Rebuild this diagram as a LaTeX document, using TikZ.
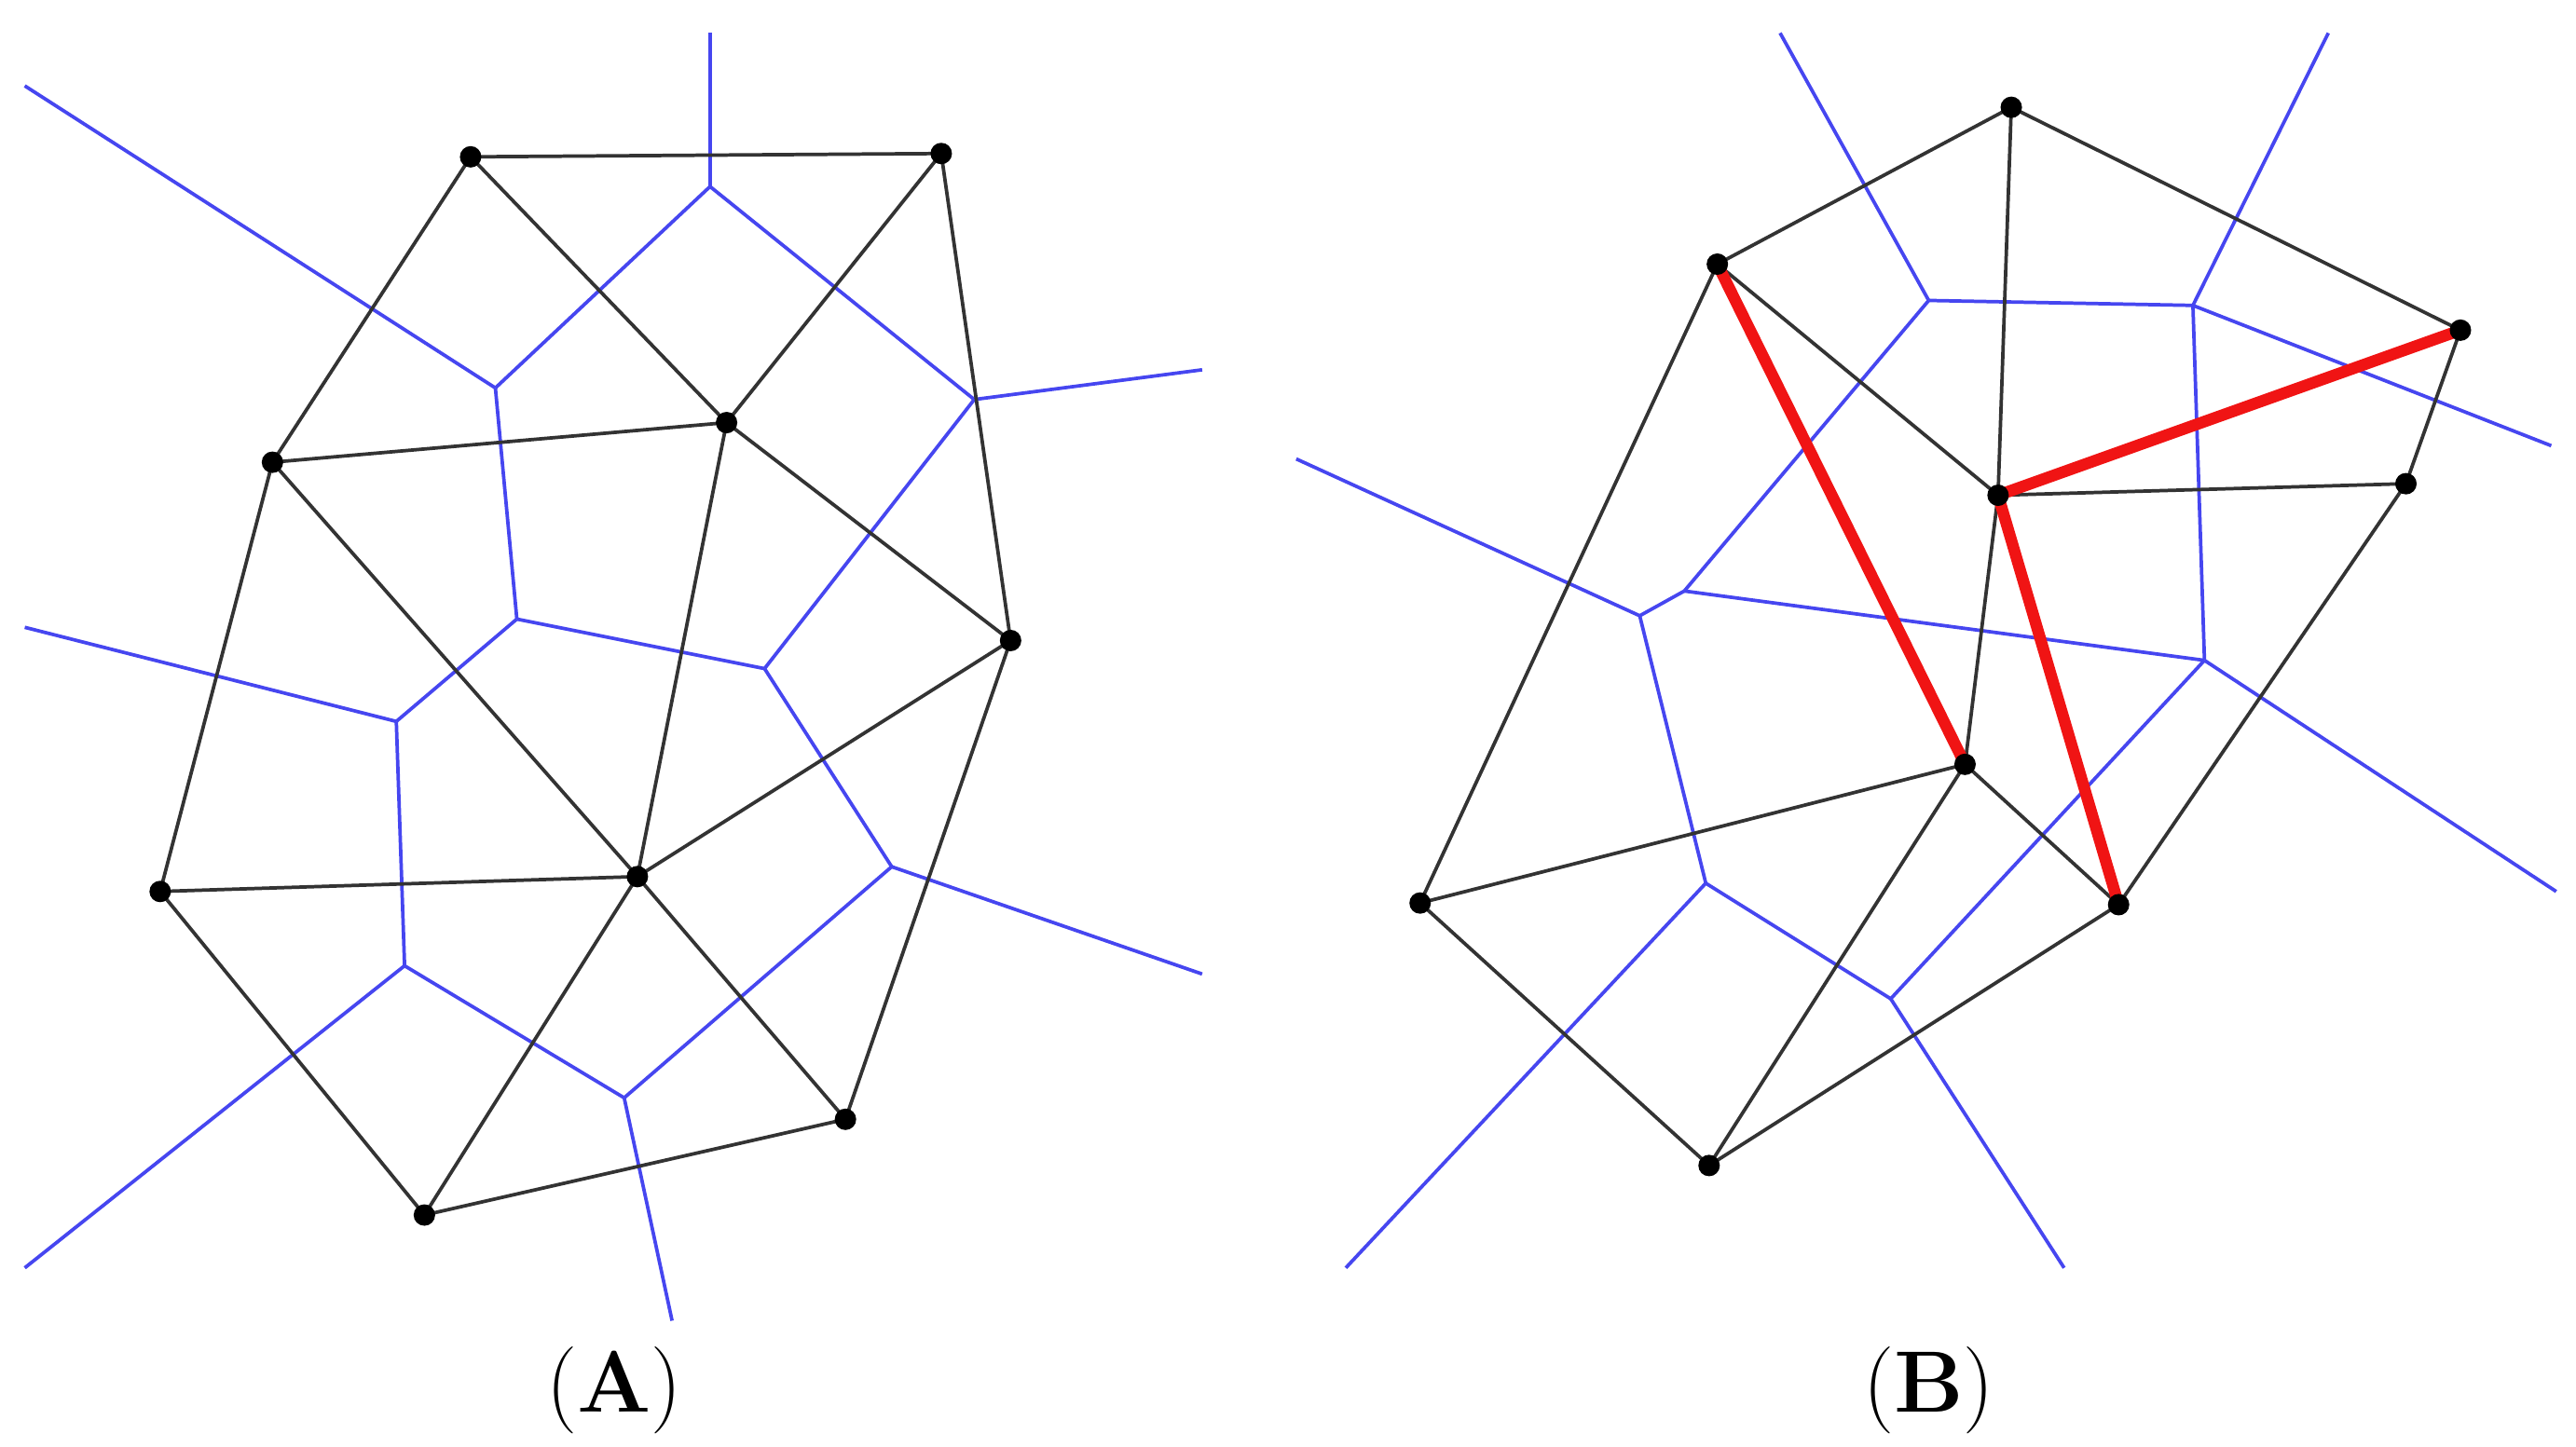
\documentclass[tikz,border=0pt]{standalone}
\begin{document}
\begin{tikzpicture}[x=0.01cm,y=-0.01cm,
  blk/.style={draw=black!80,line width=0.6pt},
  vor/.style={draw={rgb,255:red,70;green,70;blue,240},line width=0.6pt},
  red/.style={draw={rgb,255:red,240;green,20;blue,20},line width=2pt},
  lbl/.style={font=\fontsize{15}{17}\selectfont}]
\useasboundingbox (0,0) rectangle (1560,876);
% Panel A points
\foreach \n/\x/\y in {a1/285/95,a2/570/93,a3/165/280,a4/440/256,a5/612/388,a6/97/540,a7/386/531,a8/512/678,a9/257/736,
 v1/430/113,v2/300/235,v3/590/242,v4/313/375,v5/463/405,v6/240/437,v7/540/525,v8/245/585,v9/378/665,
 e1/430/20,e2/15/52,e3/728/224,e4/15/380,e5/728/590,e6/15/768,e7/407/800,
 b1/1218/65,b2/1040/160,b3/1490/200,b4/1210/300,b5/1457/293,b6/1190/463,b7/860/547,b8/1283/548,b9/1035/706,
 w1/1168/182,w2/1328/185,w3/1020/358,w4/993/373,w5/1335/400,w6/1033/535,w7/1145/605,
 f1/1078/20,f2/1410/20,f3/1545/270,f4/785/278,f5/1548/540,f6/815/768,f7/1250/768}
  \coordinate (\n) at (\x,\y);
% Voronoi A
\foreach \p/\q in {v1/e1,v1/v2,v1/v3,v2/e2,v2/v4,v3/e3,v3/v5,v4/v5,v4/v6,v5/v7,v6/e4,v6/v8,v7/e5,v7/v9,v8/v9,v8/e6,v9/e7}
  \draw[vor] (\p) -- (\q);
% Delaunay A
\foreach \p/\q in {a1/a2,a1/a3,a1/a4,a2/a4,a2/a5,a3/a4,a3/a6,a3/a7,a4/a7,a4/a5,a5/a7,a5/a8,a6/a7,a6/a9,a7/a9,a7/a8,a9/a8}
  \draw[blk] (\p) -- (\q);
% Voronoi B
\foreach \p/\q in {w1/f1,w1/w2,w1/w3,w2/f2,w2/f3,w2/w5,w3/w4,w3/w5,w4/f4,w4/w6,w5/f5,w5/w7,w6/w7,w6/f6,w7/f7}
  \draw[vor] (\p) -- (\q);
% Delaunay B
\foreach \p/\q in {b1/b2,b1/b3,b1/b4,b2/b4,b2/b7,b3/b5,b4/b5,b4/b6,b5/b8,b6/b7,b6/b9,b6/b8,b7/b9,b9/b8}
  \draw[blk] (\p) -- (\q);
\foreach \p/\q in {b2/b6,b4/b3,b4/b8}
  \draw[red] (\p) -- (\q);
\foreach \n in {a1,a2,a3,a4,a5,a6,a7,a8,a9,b1,b2,b3,b4,b5,b6,b7,b8,b9}
  \fill (\n) circle[radius=6.5];
\node[lbl] (la) at (372,842) {(\textbf{A})};
\node[lbl] (lb) at (1168,842) {(\textbf{B})};
\end{tikzpicture}
\end{document}
